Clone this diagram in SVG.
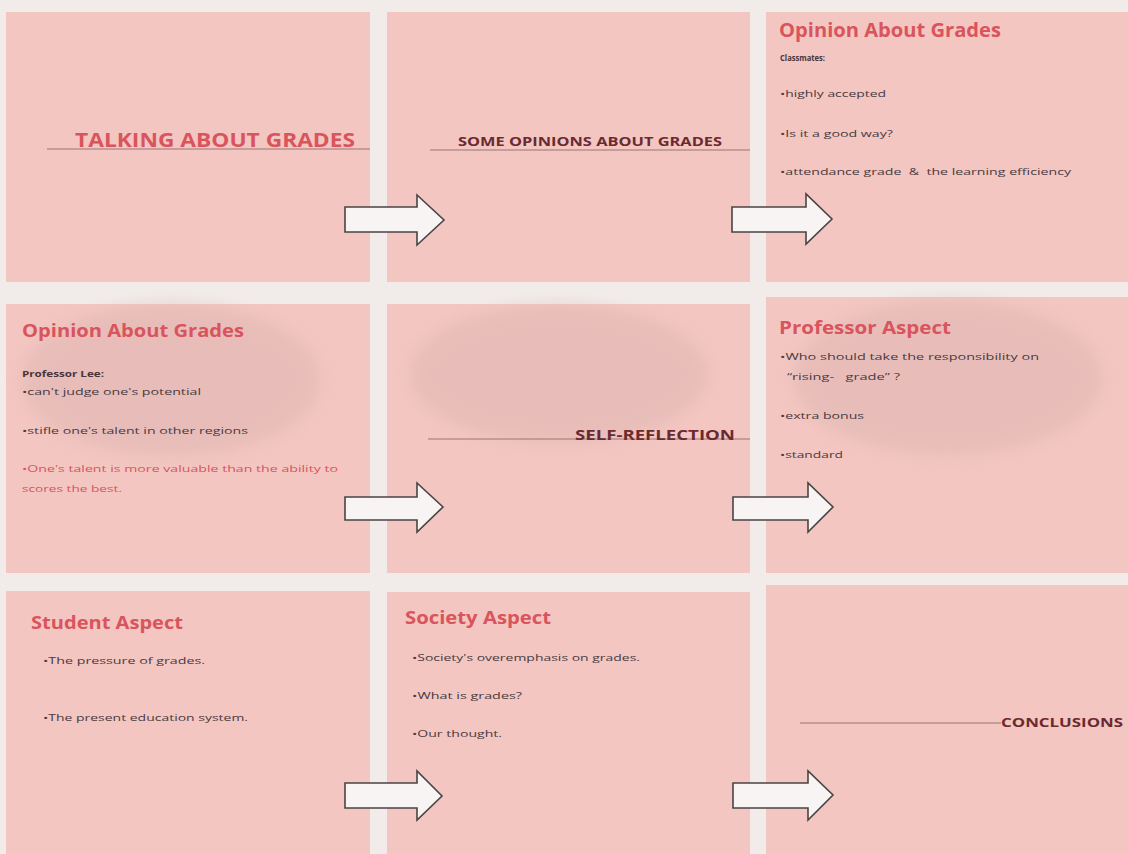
<svg xmlns="http://www.w3.org/2000/svg" width="1128" height="854" viewBox="0 0 1128 854">
<defs>
<style>
.slide{fill:#f3c6c1}
.t{font-family:"Open Sans","Liberation Sans",sans-serif;font-weight:bold}
.red{fill:#d9545c}
.dk{fill:#4a3438}
.mar{fill:#6a2a30}
.b{font-family:"Open Sans","Liberation Sans",sans-serif;font-size:9px;fill:#4a3a40;white-space:pre}
.rl{stroke:#9a7476;stroke-width:1}
.arrow{fill:#f7f4f3;stroke:#4a4444;stroke-width:1.6;stroke-linejoin:miter}
.blob{fill:#d9b2af;opacity:0.42}
</style>
<filter id="blur" x="-20%" y="-20%" width="140%" height="140%"><feGaussianBlur stdDeviation="8"/></filter>
</defs>
<rect width="1128" height="854" fill="#f1ecea"/>

<g id="slide1">
<rect class="slide" x="6" y="12" width="364" height="270"/>
<line class="rl" x1="47" y1="149" x2="370" y2="149"/>
<text class="t red" x="75" y="147" font-size="20" textLength="280" lengthAdjust="spacingAndGlyphs">TALKING ABOUT GRADES</text>
</g>

<g id="slide2">
<rect class="slide" x="387" y="12" width="363" height="270"/>
<line class="rl" x1="430" y1="150" x2="750" y2="150"/>
<text class="t mar" x="458" y="146" font-size="13" textLength="264" lengthAdjust="spacingAndGlyphs">SOME OPINIONS ABOUT GRADES</text>
</g>

<g id="slide3">
<rect class="slide" x="766" y="12" width="362" height="270"/>
<text class="t red" x="779" y="37" font-size="19" textLength="222" lengthAdjust="spacingAndGlyphs">Opinion About Grades</text>
<text class="t dk" x="780" y="61" font-size="8" textLength="45" lengthAdjust="spacingAndGlyphs">Classmates:</text>
<text class="b" x="780" y="97" textLength="106" lengthAdjust="spacingAndGlyphs">•highly accepted</text>
<text class="b" x="780" y="137" textLength="113" lengthAdjust="spacingAndGlyphs">•Is it a good way?</text>
<text class="b" x="780" y="175" textLength="291" lengthAdjust="spacingAndGlyphs" xml:space="preserve">•attendance grade  &amp;  the learning efficiency</text>
</g>

<g id="slide4">
<rect class="slide" x="6" y="304" width="364" height="269"/>
<ellipse class="blob" cx="171" cy="380" rx="150" ry="77" filter="url(#blur)"/>
<text class="t red" x="22" y="337" font-size="18" textLength="222" lengthAdjust="spacingAndGlyphs">Opinion About Grades</text>
<text class="t dk" x="22" y="377" font-size="8" textLength="82" lengthAdjust="spacingAndGlyphs">Professor Lee:</text>
<text class="b" x="22" y="395" textLength="179" lengthAdjust="spacingAndGlyphs">•can't judge one's potential</text>
<text class="b" x="22" y="434" textLength="226" lengthAdjust="spacingAndGlyphs">•stifle one's talent in other regions</text>
<text class="b" x="22" y="472" style="fill:#d9545c" textLength="316" lengthAdjust="spacingAndGlyphs">•One's talent is more valuable than the ability to</text>
<text class="b" x="22" y="492" style="fill:#d9545c" textLength="100" lengthAdjust="spacingAndGlyphs">scores the best.</text>
</g>

<g id="slide5">
<rect class="slide" x="387" y="304" width="363" height="269"/>
<ellipse class="blob" cx="559" cy="374" rx="150" ry="70" filter="url(#blur)"/>
<line class="rl" x1="428" y1="439" x2="750" y2="439"/>
<text class="t mar" x="575" y="440" font-size="14" textLength="160" lengthAdjust="spacingAndGlyphs">SELF-REFLECTION</text>
</g>

<g id="slide6">
<rect class="slide" x="766" y="297" width="362" height="276"/>
<ellipse class="blob" cx="948" cy="378" rx="155" ry="78" filter="url(#blur)"/>
<text class="t red" x="779" y="334" font-size="18" textLength="172" lengthAdjust="spacingAndGlyphs">Professor Aspect</text>
<text class="b" x="780" y="360" textLength="259" lengthAdjust="spacingAndGlyphs">•Who should take the responsibility on</text>
<text class="b" x="787" y="380" textLength="113" lengthAdjust="spacingAndGlyphs" xml:space="preserve">“rising-   grade” ?</text>
<text class="b" x="780" y="419" textLength="84" lengthAdjust="spacingAndGlyphs">•extra bonus</text>
<text class="b" x="780" y="458" textLength="63" lengthAdjust="spacingAndGlyphs">•standard</text>
</g>

<g id="slide7">
<rect class="slide" x="6" y="591" width="364" height="263"/>
<text class="t red" x="31" y="629" font-size="17" textLength="152" lengthAdjust="spacingAndGlyphs">Student Aspect</text>
<text class="b" x="43" y="664" textLength="162" lengthAdjust="spacingAndGlyphs">•The pressure of grades.</text>
<text class="b" x="43" y="721" textLength="205" lengthAdjust="spacingAndGlyphs">•The present education system.</text>
</g>

<g id="slide8">
<rect class="slide" x="387" y="592" width="363" height="262"/>
<text class="t red" x="405" y="624" font-size="17" textLength="146" lengthAdjust="spacingAndGlyphs">Society Aspect</text>
<text class="b" x="412" y="661" textLength="228" lengthAdjust="spacingAndGlyphs">•Society's overemphasis on grades.</text>
<text class="b" x="412" y="699" textLength="110" lengthAdjust="spacingAndGlyphs">•What is grades?</text>
<text class="b" x="412" y="737" textLength="90" lengthAdjust="spacingAndGlyphs">•Our thought.</text>
</g>

<g id="slide9">
<rect class="slide" x="766" y="585" width="362" height="269"/>
<line class="rl" x1="800" y1="723" x2="1001" y2="723"/>
<text class="t mar" x="1001" y="727" font-size="12" textLength="122" lengthAdjust="spacingAndGlyphs">CONCLUSIONS</text>
</g>

<g id="connectors">
<path class="arrow" d="M345,207 H417 V195 L444,220 L417,245 V232 H345 Z"/>
<path class="arrow" d="M732,207 H806 V194 L832,219 L806,244 V232 H732 Z"/>
<path class="arrow" d="M345,497 H417 V483 L443,507 L417,532 V520 H345 Z"/>
<path class="arrow" d="M733,497 H808 V483 L833,507 L808,532 V520 H733 Z"/>
<path class="arrow" d="M345,783 H417 V771 L442,796 L417,820 V808 H345 Z"/>
<path class="arrow" d="M733,783 H808 V771 L833,795 L808,820 V808 H733 Z"/>
</g>
</svg>
